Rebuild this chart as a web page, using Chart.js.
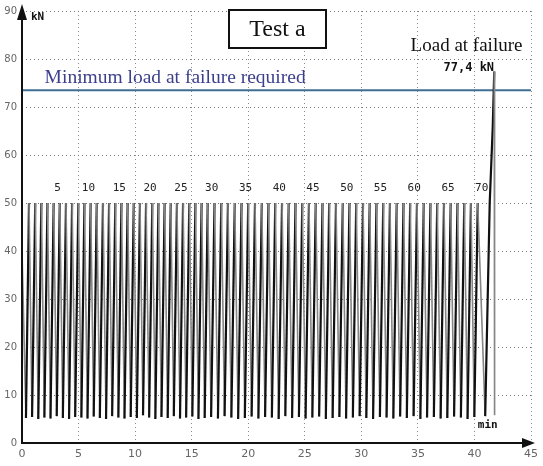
<!DOCTYPE html>
<html>
<head>
<meta charset="utf-8">
<script src="https://cdn.jsdelivr.net/npm/chart.js"></script>
<style>
  html, body { margin: 0; padding: 0; background: #fff; }
  #wrap { position: relative; width: 543px; height: 466px; }
</style>
</head>
<body>
<div id="wrap"><canvas id="chart"></canvas></div>
<script>
// tick labels
const xTickLabels = [0, 5, 10, 15, 20, 25, 30, 35, 40, 45];
const yTickLabels = [0, 10, 20, 30, 40, 50, 60, 70, 80, 90];

// cyclic loading: peak of each cycle (min, kN)
const peakTimes = [
  0.62, 1.17, 1.71, 2.25, 2.80, 3.34, 3.89, 4.43, 4.98, 5.52,
  6.07, 6.61, 7.16, 7.70, 8.25, 8.79, 9.34, 9.88, 10.43, 10.97,
  11.52, 12.06, 12.61, 13.15, 13.70, 14.24, 14.79, 15.33, 15.88, 16.42,
  17.02, 17.62, 18.21, 18.81, 19.41, 20.00, 20.60, 21.20, 21.79, 22.39,
  22.99, 23.58, 24.18, 24.78, 25.37, 25.97, 26.57, 27.16, 27.76, 28.36,
  28.95, 29.55, 30.15, 30.74, 31.34, 31.94, 32.53, 33.13, 33.73, 34.32,
  34.92, 35.52, 36.11, 36.71, 37.31, 37.90, 38.50, 39.10, 39.69, 40.29
];
const peakLoads = [
  50, 50, 50, 50, 50, 50, 50, 50, 50, 50,
  50, 50, 50, 50, 50, 50, 50, 50, 50, 50,
  50, 50, 50, 50, 50, 50, 50, 50, 50, 50,
  50, 50, 50, 50, 50, 50, 50, 50, 50, 50,
  50, 50, 50, 50, 50, 50, 50, 50, 50, 50,
  50, 50, 50, 50, 50, 50, 50, 50, 50, 50,
  50, 50, 50, 50, 50, 50, 50, 50, 50, 50
];
// trough before cycle 1 and after each cycle
const troughTimes = [
  0.35, 0.89, 1.44, 1.98, 2.52, 3.07, 3.61, 4.16, 4.70, 5.25, 5.79,
  6.34, 6.88, 7.43, 7.97, 8.52, 9.06, 9.61, 10.15, 10.70, 11.24,
  11.79, 12.33, 12.88, 13.42, 13.97, 14.51, 15.06, 15.60, 16.15, 16.72,
  17.32, 17.91, 18.51, 19.11, 19.70, 20.30, 20.90, 21.49, 22.09, 22.69,
  23.28, 23.88, 24.48, 25.07, 25.67, 26.27, 26.86, 27.46, 28.06, 28.65,
  29.25, 29.85, 30.44, 31.04, 31.64, 32.23, 32.83, 33.43, 34.02, 34.62,
  35.22, 35.81, 36.41, 37.01, 37.60, 38.20, 38.80, 39.39, 39.99, 40.95
];
const troughLoads = [
  5.2, 5.4, 5.0, 5.3, 5.1, 5.6, 5.2, 5.0, 5.4, 5.3, 5.1,
  5.5, 5.2, 5.0, 5.6, 5.3, 5.1, 5.4, 5.2, 5.8, 5.3,
  5.0, 5.4, 5.2, 5.6, 5.1, 5.3, 5.5, 5.0, 5.2, 5.4,
  5.1, 5.6, 5.3, 5.0, 5.2, 5.5, 5.1, 5.4, 5.3, 5.0,
  5.6, 5.2, 5.4, 5.1, 5.3, 5.5, 5.0, 5.2, 5.4, 5.1,
  5.3, 5.6, 5.2, 5.0, 5.4, 5.3, 5.1, 5.5, 5.2, 5.6,
  5.0, 5.3, 5.4, 5.1, 5.2, 5.5, 5.3, 5.0, 5.4, 5.6
];
// start of record and final ramp to failure
const startPoint = { t: 0.0, kN: 40 };
const rampTimes = [41.35, 41.62, 41.75, 41.78];
const rampLoads = [50, 66, 77.4, 5.8];

const cycleLabels = [5, 10, 15, 20, 25, 30, 35, 40, 45, 50, 55, 60, 65, 70];
const requiredLoad = 73.5;

// build the load trace
const trace = [{ x: startPoint.t, y: startPoint.kN }];
for (let i = 0; i < troughTimes.length; i++) {
  trace.push({ x: troughTimes[i], y: troughLoads[i] });
  if (i < peakTimes.length) trace.push({ x: peakTimes[i], y: peakLoads[i] });
}
rampTimes.forEach((t, i) => trace.push({ x: t, y: rampLoads[i] }));

const overlay = {
  id: 'overlay',
  afterDraw(chart) {
    const { ctx, chartArea: a, scales: { x, y } } = chart;
    ctx.save();

    // axes with arrows
    ctx.strokeStyle = '#111';
    ctx.fillStyle = '#111';
    ctx.lineWidth = 2;
    ctx.beginPath();
    ctx.moveTo(a.left, a.top + 6);
    ctx.lineTo(a.left, a.bottom);
    ctx.lineTo(a.right - 4, a.bottom);
    ctx.stroke();
    ctx.beginPath();
    ctx.moveTo(a.left, a.top - 7);
    ctx.lineTo(a.left - 5, a.top + 9);
    ctx.lineTo(a.left + 5, a.top + 9);
    ctx.closePath();
    ctx.fill();
    ctx.beginPath();
    ctx.moveTo(a.right + 4, a.bottom);
    ctx.lineTo(a.right - 9, a.bottom - 5);
    ctx.lineTo(a.right - 9, a.bottom + 5);
    ctx.closePath();
    ctx.fill();

    // unit labels
    ctx.font = 'bold 11px "DejaVu Sans Mono", monospace';
    ctx.textAlign = 'left';
    ctx.textBaseline = 'middle';
    ctx.fillText('kN', a.left + 9, a.top + 6);
    ctx.fillText('min', x.getPixelForValue(40.3), y.getPixelForValue(3.8));

    // cycle numbers
    ctx.font = '11px "DejaVu Sans Mono", monospace';
    ctx.fillStyle = '#222';
    ctx.textAlign = 'center';
    cycleLabels.forEach(n => {
      ctx.fillText(String(n), x.getPixelForValue(peakTimes[n - 1]) + 4, y.getPixelForValue(53));
    });

    // required load caption
    ctx.font = '19.5px "Liberation Serif", serif';
    ctx.fillStyle = '#3b3f8c';
    ctx.textAlign = 'left';
    ctx.textBaseline = 'alphabetic';
    ctx.fillText('Minimum load at failure required', x.getPixelForValue(2.0), y.getPixelForValue(75.0));

    // failure caption
    ctx.fillStyle = '#111';
    ctx.font = '19px "Liberation Serif", serif';
    ctx.textAlign = 'center';
    ctx.fillText('Load at failure', x.getPixelForValue(39.3), y.getPixelForValue(81.6));
    ctx.font = 'bold 12px "DejaVu Sans Mono", monospace';
    ctx.fillText('77,4 kN', x.getPixelForValue(39.5), y.getPixelForValue(77.6));

    // title box
    ctx.lineWidth = 2;
    ctx.fillStyle = '#fff';
    ctx.fillRect(229, 10, 97, 38);
    ctx.strokeRect(229, 10, 97, 38);
    ctx.fillStyle = '#111';
    ctx.font = '24px "Liberation Serif", serif';
    ctx.textBaseline = 'middle';
    ctx.fillText('Test a', 277.5, 30);

    ctx.restore();
  }
};

const canvas = document.getElementById('chart');
new Chart(canvas, {
  type: 'line',
  data: {
    datasets: [{
      data: trace,
      borderColor: '#111',
      borderWidth: 1.8,
      pointRadius: 0,
      tension: 0,
      segment: {
        borderColor: c => c.p1.parsed.y > c.p0.parsed.y ? '#111' : '#858585',
        borderWidth: c => c.p1.parsed.y > c.p0.parsed.y ? 2.2 : 1.6
      }
    }, {
      data: [{ x: 0, y: requiredLoad }, { x: 45, y: requiredLoad }],
      borderColor: '#3f6f93',
      borderWidth: 2,
      pointRadius: 0
    }]
  },
  options: {
    responsive: true,
    maintainAspectRatio: false,
    animation: false,
    events: [],
    layout: { padding: { left: 0, right: 10, top: 10, bottom: 0 } },
    plugins: {
      legend: { display: false },
      tooltip: { enabled: false }
    },
    scales: {
      x: {
        type: 'linear',
        min: 0,
        max: 45,
        afterFit: s => { s.height = 23; },
        afterBuildTicks: s => { s.ticks = xTickLabels.map(v => ({ value: v })); },
        grid: { color: '#8a8a8a', lineWidth: 1, drawTicks: false },
        border: { display: false, dash: [1, 3] },
        ticks: {
          padding: 5,
          color: '#666',
          font: { family: '"DejaVu Sans"', size: 11 }
        }
      },
      y: {
        min: 0,
        max: 90,
        afterFit: s => { s.width = 22; },
        afterBuildTicks: s => { s.ticks = yTickLabels.map(v => ({ value: v })); },
        grid: { color: '#7a7a7a', lineWidth: 1, drawTicks: false },
        border: { display: false, dash: [1, 3] },
        ticks: {
          padding: 5,
          color: '#666',
          font: { family: '"DejaVu Sans"', size: 10 }
        }
      }
    }
  },
  plugins: [overlay]
});
</script>
</body>
</html>
